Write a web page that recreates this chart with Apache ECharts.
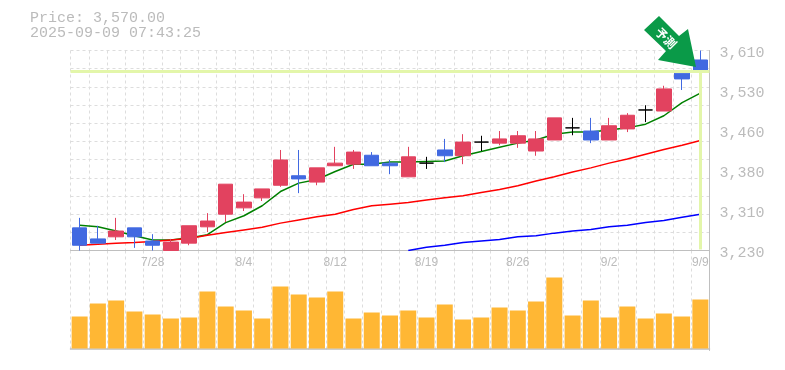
<!DOCTYPE html>
<html>
<head>
<meta charset="utf-8">
<style>
  html, body { margin: 0; padding: 0; background: #fff; }
  #chart { width: 785px; height: 370px; }
</style>
<script src="https://cdn.jsdelivr.net/npm/echarts@6/dist/echarts.min.js"></script>
</head>
<body>
<div id="chart"></div>
<script>
const dates = ['7/22','7/23','7/24','7/25','7/28','7/29','7/30','7/31','8/1','8/4','8/5','8/6','8/7','8/8','8/12','8/13','8/14','8/15','8/18','8/19','8/20','8/21','8/22','8/25','8/26','8/27','8/28','8/29','9/1','9/2','9/3','9/4','9/5','9/8','9/9']
const labeledDates = ['7/28','8/4','8/12','8/19','8/26','9/2','9/9']

// open, close, low, high  (チャート下端で切れているものは 3230 止まり)
const candles = [
  [3273,3240,3230,3292],[3252,3244,3244,3277],[3256,3267,3250,3292],[3273,3256,3235,3273],[3248,3240,3230,3261],
  [3230,3246,3230,3252],[3244,3277,3240,3277],[3275,3286,3265,3301],[3299,3356,3284,3356],[3311,3322,3305,3337],
  [3330,3347,3324,3347],[3354,3402,3351,3421],[3372,3366,3339,3421],[3360,3387,3354,3387],[3391,3396,3391,3427],
  [3394,3417,3385,3421],[3411,3391,3391,3417],[3396,3391,3375,3402],[3370,3408,3370,3427],[3396,3396,3385,3408],
  [3421,3410,3398,3442],[3410,3436,3394,3451],[3436,3436,3419,3448],[3434,3442,3430,3457],[3434,3448,3425,3457],
  [3419,3442,3410,3457],[3440,3482,3440,3482],[3463,3463,3449,3482],[3457,3440,3434,3482],[3440,3467,3440,3482],
  [3461,3487,3455,3491],[3497,3497,3474,3506],[3495,3537,3495,3543],[3567,3556,3535,3567],[3592,3569,3556,3610]
]
const maShort = [3278,3275,3267,3258,3250,3250,3254,3260,3283,3296,3315,3342,3358,3365,3380,3394,3394,3398,3398,3399,3400,3410,3418,3426,3434,3440,3451,3455,3455,3459,3463,3470,3486,3511,3529]
const maMid = [3240,3242,3244,3245,3247,3250,3253,3259,3264,3269,3274,3282,3288,3294,3299,3308,3315,3318,3321,3326,3330,3334,3340,3346,3353,3362,3370,3379,3387,3396,3404,3413,3422,3430,3439]
const maLong = [null,null,null,null,null,null,null,null,null,null,null,null,null,null,null,null,null,null,3230,3236,3240,3245,3248,3251,3256,3258,3263,3267,3270,3275,3278,3283,3287,3293,3299]
const volumes = [32,45,48,37,34,30,31,57,42,38,30,62,54,51,57,30,36,33,38,31,44,29,31,41,38,47,71,33,48,31,42,30,35,32,49]

const gridValues = [3230,3264.5,3299.1,3333.6,3368.2,3402.7,3437.3,3471.8,3506.4,3540.9,3575.5,3610]
const priceTicks = [3230,3306,3382,3458,3534,3610]
const priceLabels = ['3,230','3,310','3,380','3,460','3,530','3,610']
const lastPrice = 3570

const gridColor = '#dddddd'
const axisColor = '#bfbfbf'
const textColor = '#bbbbbb'
const limeColor = '#e3f6aa'

var chart = echarts.init(document.getElementById('chart'), null, { renderer: 'canvas' })

var option = {
  animation: false,
  backgroundColor: '#fff',
  grid: [
    { left: 70.5, width: 639, top: 50.5, height: 200 },
    { left: 70.5, width: 639, top: 250.5, height: 100 }
  ],
  xAxis: [
    {
      type: 'category',
      gridIndex: 0,
      data: dates,
      axisLine: { lineStyle: { color: axisColor, width: 1 } },
      axisTick: { show: false },
      axisLabel: {
        interval: (i, v) => labeledDates.includes(v),
        color: textColor,
        fontFamily: 'Liberation Sans',
        fontSize: 12,
        margin: 6
      },
      splitLine: { show: true, interval: 0, lineStyle: { color: gridColor, type: [3, 3] } }
    },
    {
      type: 'category',
      gridIndex: 1,
      data: dates,
      axisLine: { lineStyle: { color: axisColor, width: 1.5 } },
      axisTick: { show: false },
      axisLabel: { show: false },
      splitLine: { show: true, interval: 0, lineStyle: { color: gridColor, type: [3, 3] } }
    }
  ],
  yAxis: [
    {
      type: 'value',
      gridIndex: 0,
      position: 'right',
      min: 3230,
      max: 3610,
      axisLine: { show: true, lineStyle: { color: axisColor } },
      axisTick: { show: false, customValues: gridValues },
      axisLabel: {
        customValues: priceTicks,
        formatter: (v) => priceLabels[priceTicks.indexOf(v)],
        color: textColor,
        fontFamily: 'Liberation Mono',
        fontSize: 15,
        margin: 10,
        verticalAlign: 'top',
        lineHeight: 6
      },
      splitLine: { show: true, lineStyle: { color: gridColor, type: [3, 3] } }
    },
    {
      type: 'value',
      gridIndex: 1,
      position: 'right',
      min: -2,
      max: 98,
      axisLine: { show: true, lineStyle: { color: axisColor } },
      axisTick: { show: false },
      axisLabel: { show: false },
      splitLine: { show: false }
    }
  ],
  series: [
    {
      // 現在値のガイド線
      type: 'line',
      z: 1,
      silent: true,
      symbol: 'none',
      data: [],
      markLine: {
        silent: true,
        symbol: 'none',
        label: { show: false },
        lineStyle: { color: limeColor, width: 3, type: 'solid' },
        data: [
          { yAxis: lastPrice },
          [{ coord: ['9/9', lastPrice] }, { coord: ['9/9', 3232] }]
        ]
      }
    },
    { type: 'line', z: 2, data: maShort, symbol: 'none', lineStyle: { color: '#008000', width: 1.5 } },
    { type: 'line', z: 2, data: maMid, symbol: 'none', lineStyle: { color: '#ff0000', width: 1.5 } },
    { type: 'line', z: 2, data: maLong, symbol: 'none', lineStyle: { color: '#0000ff', width: 1.5 } },
    {
      type: 'candlestick',
      z: 3,
      data: candles,
      barWidth: 15,
      itemStyle: {
        color: '#e2425f',
        color0: '#4169e1',
        borderColor: '#e2425f',
        borderColor0: '#4169e1',
        borderColorDoji: '#000',
        borderWidth: 1
      }
    },
    {
      type: 'bar',
      xAxisIndex: 1,
      yAxisIndex: 1,
      data: volumes,
      barWidth: 16,
      itemStyle: { color: '#ffb734' }
    }
  ],
  graphic: [
    {
      type: 'text',
      left: 30,
      top: 11,
      style: {
        text: 'Price: 3,570.00\n2025-09-09 07:43:25',
        fill: textColor,
        font: '15px "Liberation Mono"',
        lineHeight: 15
      }
    },
    {
      type: 'polygon',
      z: 10,
      shape: { points: [[644, 30], [659, 16], [679, 36], [688, 29], [696, 67], [658, 60], [666, 51]] },
      style: { fill: '#0a9a48' }
    },
    {
      type: 'text',
      z: 11,
      x: 666,
      y: 38,
      rotation: -Math.PI / 4,
      style: {
        text: '予測',
        fill: '#fff',
        font: 'bold 12px "Noto Sans CJK JP"',
        align: 'center',
        verticalAlign: 'middle'
      }
    }
  ]
}

chart.setOption(option)
</script>
</body>
</html>
